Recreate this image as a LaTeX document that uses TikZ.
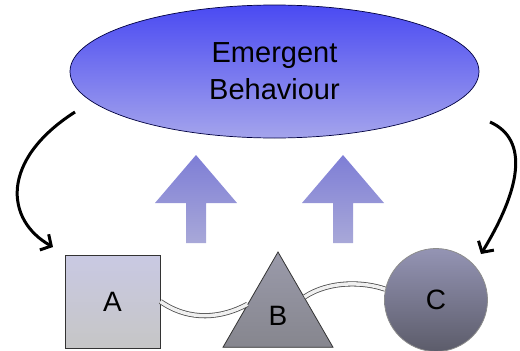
\documentclass[tikz,border=0pt]{standalone}
\usepackage{fontspec}
\setmainfont{Liberation Sans}
\usetikzlibrary{shapes.geometric,arrows.meta}

\definecolor{blobtop}{HTML}{4A4AF2}
\definecolor{blobbot}{HTML}{A4A4EC}
\definecolor{uptop}{HTML}{7E7ED6}
\definecolor{upbot}{HTML}{A8A8D8}
\definecolor{sqtop}{HTML}{C9C9E3}
\definecolor{sqbot}{HTML}{C6C6C6}
\definecolor{tritop}{HTML}{9A9AAA}
\definecolor{tribot}{HTML}{86868E}
\definecolor{crctop}{HTML}{9494B4}
\definecolor{crcbot}{HTML}{5C5C6A}

\begin{document}
\begin{tikzpicture}[x=1pt,y=-1pt]
      \tikzstyle{every node}+=[inner sep=0pt]
      \tikzstyle{agent}=[draw=black!80,line width=0.8pt,font=\fontsize{28}{30}\selectfont]
      \tikzstyle{link}=[draw=black!70,double=black!6,double distance=3.5pt,line width=0.8pt]
      \tikzstyle{feedback}=[black,line width=3pt,-{Straight Barb[length=8pt,width=18pt]}]
      \useasboundingbox (0,0) rectangle (520,351);
      % emergent behaviour
      \node [ellipse,draw=black!75!blue,line width=0.7pt,top color=blobtop,bottom color=blobbot,
             minimum width=409pt,minimum height=133pt,align=center,
             font=\fontsize{29}{37}\selectfont] (emerge) at (274.5,71.5) {Emergent\\Behaviour};
      % agents
      \node [agent,rectangle,top color=sqtop,bottom color=sqbot,minimum width=95pt,minimum height=93pt] (nodeA) at (112.5,301.5) {A};
      \node [agent,regular polygon,regular polygon sides=3,top color=tritop,bottom color=tribot,minimum size=127pt] (nodeB) at (278,315.5) {B};
      \node [agent,circle,draw=black!45,top color=crctop,bottom color=crcbot,minimum size=103pt] (nodeC) at (436,300) {C};
      % interactions
      \draw [link] (nodeA.east) .. controls (190,322) and (222,318) .. (nodeB.160);
      \draw [link] (nodeB.35) .. controls (330,280) and (365,282) .. (nodeC.168);
      % upward arrows
      \foreach \ux in {196,343} {
        \shade [top color=uptop,bottom color=upbot]
          (\ux,155) -- (\ux+41,203) -- (\ux+10,203) -- (\ux+10,243)
          -- (\ux-10,243) -- (\ux-10,203) -- (\ux-41,203) -- cycle;
      }
      % feedback
      \coordinate (fbLs) at (75,112);
      \coordinate (fbLe) at (53,247);
      \coordinate (fbRs) at (490,122);
      \coordinate (fbRe) at (481,254);
      \draw [feedback] (fbLs) .. controls (0,160) and (5,220) .. (fbLe);
      \draw [feedback] (fbRs) .. controls (530,140) and (520,190) .. (fbRe);
\end{tikzpicture}
\end{document}
